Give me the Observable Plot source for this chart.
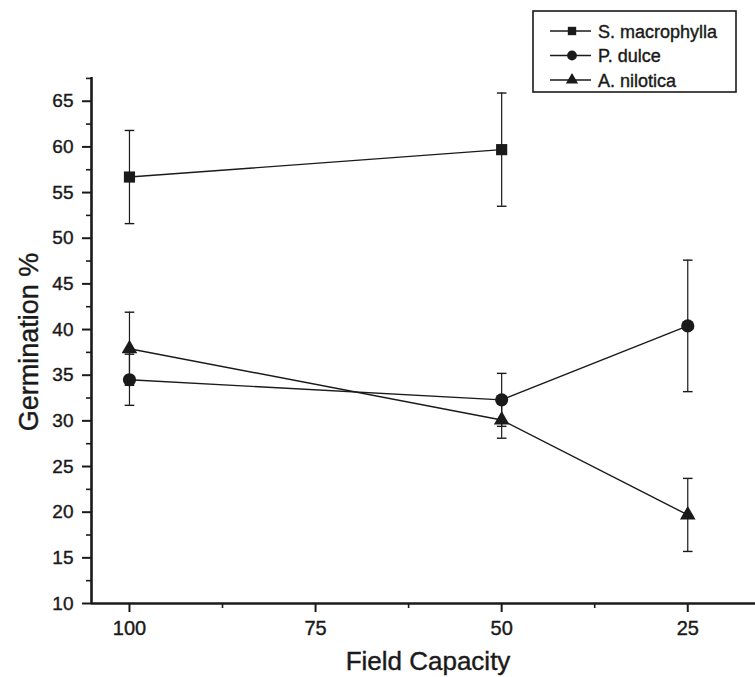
<!DOCTYPE html>
<html><head><meta charset="utf-8">
<script src="https://cdn.jsdelivr.net/npm/d3@7"></script>
<script src="https://cdn.jsdelivr.net/npm/@observablehq/plot@0.6"></script>
<style>
body{margin:0;background:#fff;}
#chart{position:relative;width:755px;height:677px;}
svg text{font-family:"Liberation Sans",Arial,sans-serif;}
</style></head><body><div id="chart"></div>
<script>
// ---- data ----
const fieldCapacity = [100, 50, 25];
const seriesNames = ["S. macrophylla", "P. dulce", "A. nilotica"];
const seriesSymbols = ["square", "circle", "triangle"];
const sMacrophylla = [56.7, 59.7, null];
const sMacrophyllaErr = [5.1, 6.2, null];
const pDulce = [34.5, 32.3, 40.4];
const pDulceErr = [2.8, 2.9, 7.2];
const aNilotica = [37.9, 30.1, 19.7];
const aNiloticaErr = [4.0, 2.0, 4.0];
const xTicks = [100, 75, 50, 25];
const xMinorTicks = [87.5, 62.5, 37.5];
const yTicks = [10, 15, 20, 25, 30, 35, 40, 45, 50, 55, 60, 65];
const yMinorTicks = [12.5, 17.5, 22.5, 27.5, 32.5, 37.5, 42.5, 47.5, 52.5, 57.5, 62.5, 67.5];
const xLabel = "Field Capacity";
const yLabel = "Germination %";

const values = [sMacrophylla, pDulce, aNilotica];
const errors = [sMacrophyllaErr, pDulceErr, aNiloticaErr];
const rows = [];
seriesNames.forEach((s, i) => {
  fieldCapacity.forEach((fc, j) => {
    const v = values[i][j];
    if (v == null) return;
    const e = errors[i][j];
    rows.push({series: s, symbol: seriesSymbols[i], fc, v, lo: v - e, hi: v + e});
  });
});
const caps = rows.flatMap(d => [{fc: d.fc, y: d.lo}, {fc: d.fc, y: d.hi}]);

const capSymbol = {draw(ctx, size) { const w = Math.sqrt(size / Math.PI); ctx.moveTo(-w, 0); ctx.lineTo(w, 0); }};
const ink = "#1a1a1a";
const dotR = {square: 6.3, circle: 6.6, triangle: 5.8};

const chart = Plot.plot({
  width: 755, height: 677,
  marginLeft: 91, marginRight: 0, marginTop: 77, marginBottom: 74,
  style: {fontFamily: "Liberation Sans, Arial, sans-serif", color: ink, background: "#fff"},
  x: {domain: [105.1, 15.9], axis: null},
  y: {domain: [10, 67.6], axis: null},
  marks: [
    Plot.ruleX(rows, {x: "fc", y1: "lo", y2: "hi", stroke: ink, strokeWidth: 1.2}),
    Plot.dot(caps, {x: "fc", y: "y", symbol: capSymbol, r: 4.8, stroke: ink, strokeWidth: 1.4, fill: "none"}),
    Plot.line(rows, {x: "fc", y: "v", z: "series", stroke: ink, strokeWidth: 1.4}),
    ...seriesSymbols.map(sym => Plot.dot(rows.filter(d => d.symbol === sym),
      {x: "fc", y: "v", symbol: sym, r: dotR[sym], fill: ink, stroke: "none"})),
    Plot.axisY(yTicks, {anchor: "left", tickSize: 9, tickPadding: 9, fontSize: 19, label: null, stroke: ink, strokeWidth: 2, fill: ink}),
    Plot.axisY(yMinorTicks.filter(t => t <= 67.6), {anchor: "left", tickSize: 5, tickFormat: () => "", label: null, stroke: ink, strokeWidth: 1.6}),
    Plot.axisX(xTicks, {anchor: "bottom", tickSize: 9, tickPadding: 8, fontSize: 20, label: null, stroke: ink, strokeWidth: 2, fill: ink}),
    Plot.axisX(xMinorTicks, {anchor: "bottom", tickSize: 5, tickFormat: () => "", label: null, stroke: ink, strokeWidth: 1.6}),
    Plot.ruleY([10], {stroke: ink, strokeWidth: 2.6}),
    Plot.ruleX([105.1], {stroke: ink, strokeWidth: 2.6})
  ]
});
document.getElementById("chart").appendChild(chart);

// ---- axis titles & legend ----
const svg = d3.select(chart);
svg.append("text").attr("transform", "translate(38,342) rotate(-90)")
  .attr("text-anchor", "middle").attr("font-size", 27).attr("fill", ink).text(yLabel);
svg.append("text").attr("x", 428).attr("y", 670)
  .attr("text-anchor", "middle").attr("font-size", 26).attr("fill", ink).text(xLabel);

const lg = svg.append("g").attr("text-anchor", "start");
lg.append("rect").attr("x", 533).attr("y", 11).attr("width", 203).attr("height", 81)
  .attr("fill", "#fff").attr("stroke", ink).attr("stroke-width", 1.6);
const legendSym = {square: d3.symbolSquare, circle: d3.symbolCircle, triangle: d3.symbolTriangle};
const legendSize = {square: 70, circle: 75, triangle: 65};
seriesNames.forEach((s, i) => {
  const cy = 31 + i * 24.5;
  lg.append("line").attr("x1", 550).attr("x2", 591).attr("y1", cy).attr("y2", cy)
    .attr("stroke", ink).attr("stroke-width", 1.4);
  lg.append("path").attr("transform", `translate(572,${cy})`)
    .attr("d", d3.symbol(legendSym[seriesSymbols[i]], legendSize[seriesSymbols[i]])()).attr("fill", ink);
  lg.append("text").attr("x", 598).attr("y", cy + 6.5).attr("text-anchor", "start")
    .attr("font-size", 18).attr("fill", ink).text(s);
});
// slightly heavier text, like the printed figure
svg.selectAll("text").attr("stroke", ink).attr("stroke-width", 0.4).attr("paint-order", "fill");
</script></body></html>
